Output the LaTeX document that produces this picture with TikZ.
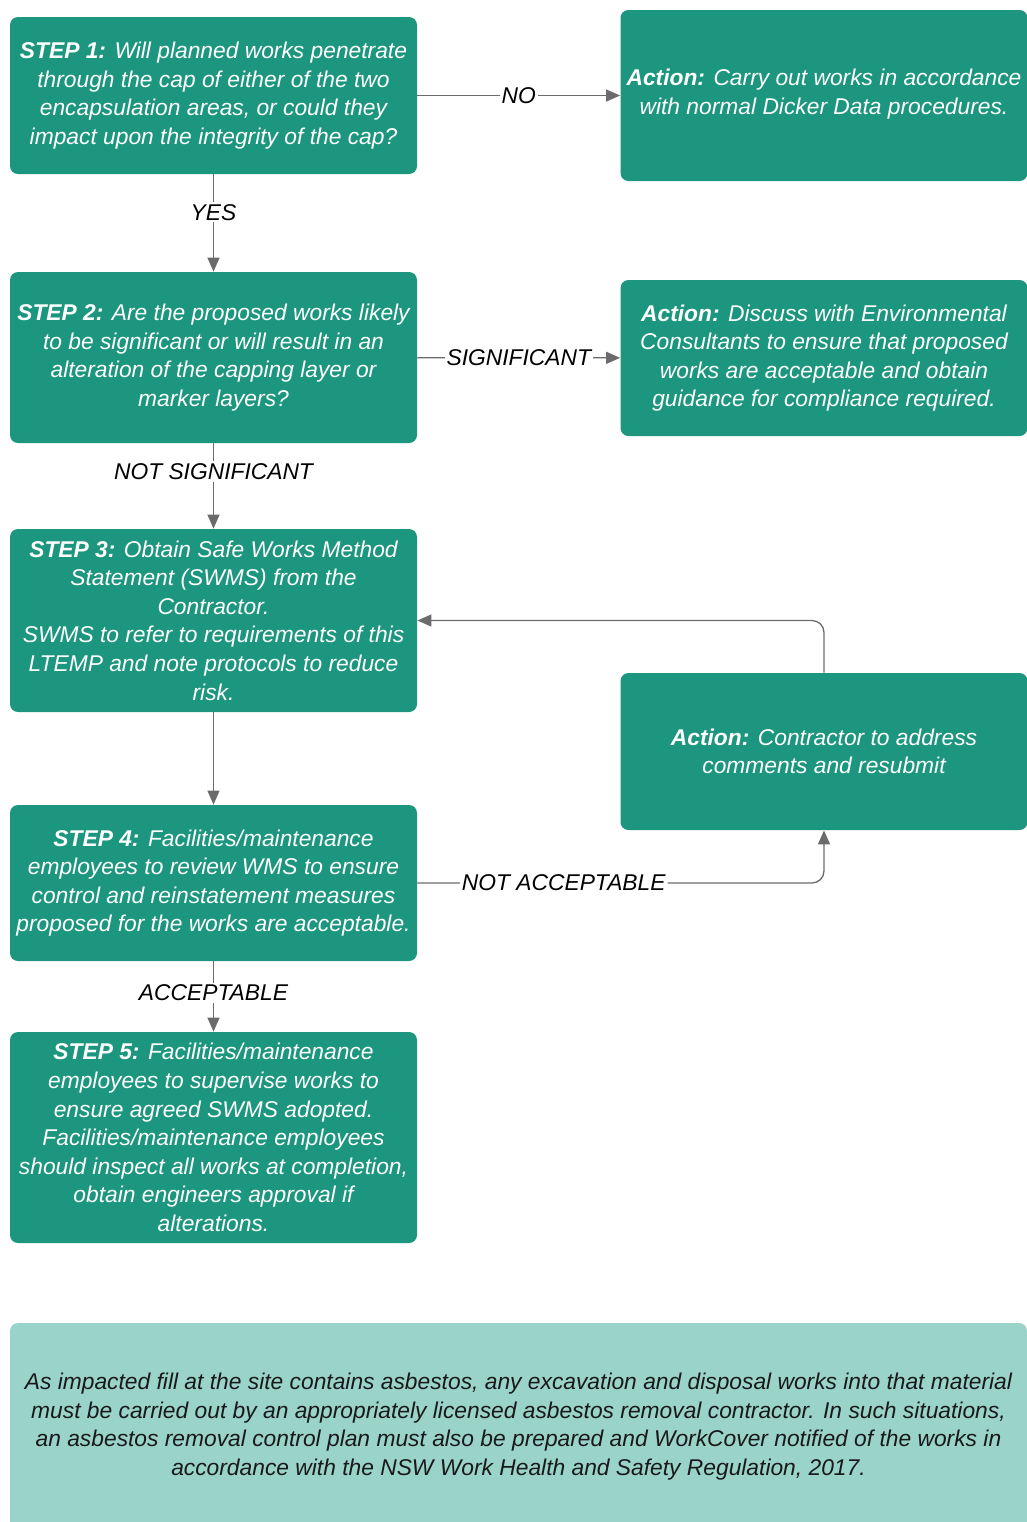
\documentclass[tikz,border=0pt]{standalone}
\usepackage{fontspec}
\setmainfont{Liberation Sans}
\usetikzlibrary{positioning, arrows.meta}

\definecolor{boxgreen}{HTML}{1C967E}
\definecolor{notegreen}{HTML}{9AD4C9}
\definecolor{linegray}{HTML}{6B6B6B}

\begin{document}
\begin{tikzpicture}[x=0.5pt, y=-0.5pt, >={Triangle[length=7pt, width=6pt]},
    stepbox/.style={rectangle, rounded corners=4pt, fill=boxgreen, text=white,
        align=center, minimum width=203.5pt, inner sep=2pt,
        font=\fontsize{11.4}{14.3}\selectfont\itshape},
    notebox/.style={stepbox, fill=notegreen, text=black!90, minimum width=508.5pt},
    lbl/.style={fill=white, text=black, inner sep=1pt, font=\fontsize{11.4}{13}\selectfont\itshape},
    conn/.style={color=linegray, line width=0.65pt}]
    \useasboundingbox (0,0) rectangle (1027,1522);

    % left column
    \node[stepbox, minimum height=78.5pt] (s1) at (213.5,95.5)
        {\textbf{STEP 1:} Will planned works penetrate\\through the cap of either of the two\\encapsulation areas, or could they\\impact upon the integrity of the cap?};
    \node[stepbox, minimum height=85.5pt] (s2) at (213.5,357.5)
        {\textbf{STEP 2:} Are the proposed works likely\\to be significant or will result in an\\alteration of the capping layer or\\marker layers?};
    \node[stepbox, minimum height=91.5pt] (s3) at (213.5,620.5)
        {\textbf{STEP 3:} Obtain Safe Works Method\\Statement (SWMS) from the\\Contractor.\\SWMS to refer to requirements of this\\LTEMP and note protocols to reduce\\risk.};
    \node[stepbox, minimum height=78pt] (s4) at (213.5,883)
        {\textbf{STEP 4:} Facilities/maintenance\\employees to review WMS to ensure\\control and reinstatement measures\\proposed for the works are acceptable.};
    \node[stepbox, minimum height=105.5pt] (s5) at (213.5,1137.5)
        {\textbf{STEP 5:} Facilities/maintenance\\employees to supervise works to\\ensure agreed SWMS adopted.\\Facilities/maintenance employees\\should inspect all works at completion,\\obtain engineers approval if\\alterations.};

    % right column
    \node[stepbox, minimum height=85.5pt, text depth=4pt] (a1) at (824,95.5)
        {\textbf{Action:} Carry out works in accordance\\with normal Dicker Data procedures.};
    \node[stepbox, minimum height=78pt] (a2) at (824,358)
        {\textbf{Action:} Discuss with Environmental\\Consultants to ensure that proposed\\works are acceptable and obtain\\guidance for compliance required.};
    \node[stepbox, minimum height=78.5pt] (a3) at (824,751.5)
        {\textbf{Action:} Contractor to address\\comments and resubmit};

    % note
    \node[notebox, minimum height=103.5pt] (note) at (518.5,1426.5)
        {As impacted fill at the site contains asbestos, any excavation and disposal works into that material\\must be carried out by an appropriately licensed asbestos removal contractor. In such situations,\\an asbestos removal control plan must also be prepared and WorkCover notified of the works in\\accordance with the NSW Work Health and Safety Regulation, 2017.};

    \path[conn, ->]
        (s1) edge node[lbl] {NO} (a1)
        (s1) edge node[lbl, pos=0.39] {YES} (s2)
        (s2) edge node[lbl] {SIGNIFICANT} (a2)
        (s2) edge node[lbl, pos=0.33] {NOT SIGNIFICANT} (s3)
        (s3) edge (s4)
        (s4) edge node[lbl, pos=0.45] {ACCEPTABLE} (s5);
    \draw[conn, ->, rounded corners=6pt] (s4.east) -| node[lbl, pos=0.18] {NOT ACCEPTABLE} (a3.south);
    \draw[conn, ->, rounded corners=6pt] (a3.north) |- (s3.east);
\end{tikzpicture}
\end{document}
